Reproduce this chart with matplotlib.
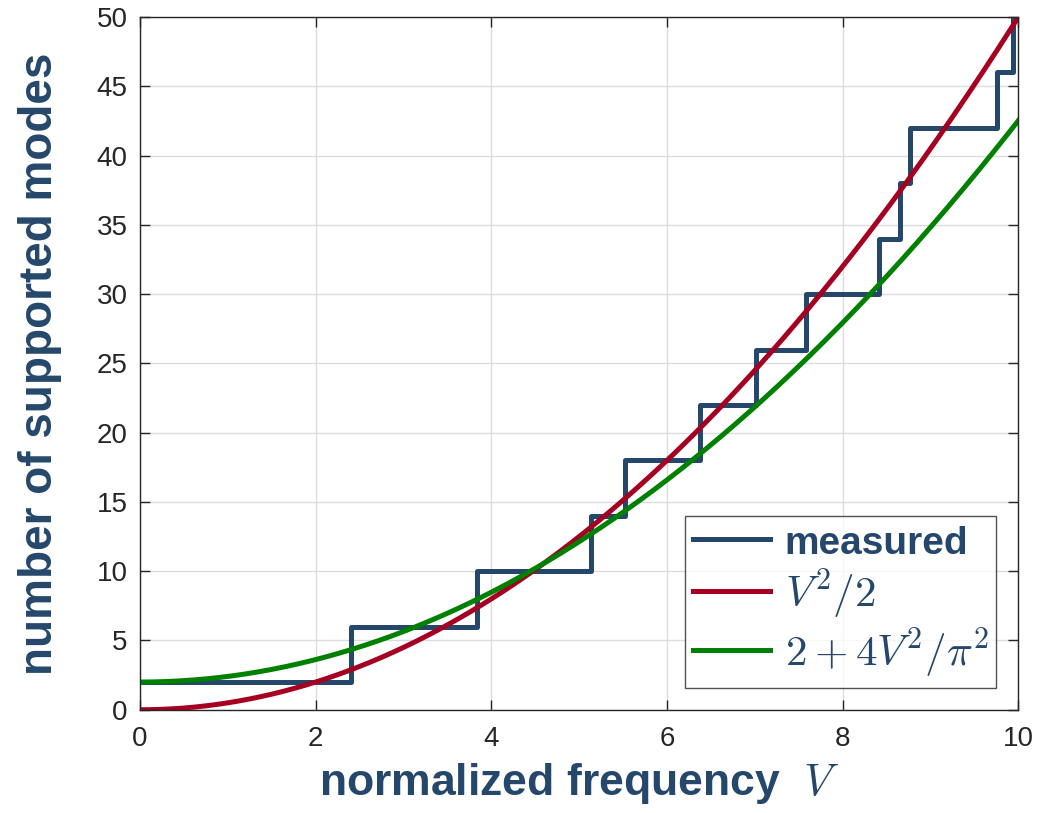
import numpy as np
import matplotlib.pyplot as plt

# cutoff values of V where a new group of modes appears
v_cut = [0.0, 2.405, 3.832, 5.136, 5.520, 6.380, 7.016, 7.588, 8.417, 8.654, 8.771, 9.761, 9.936, 10.0]
n_modes = [2, 6, 10, 14, 18, 22, 26, 30, 34, 38, 42, 46, 50, 50]

V = np.linspace(0, 10, 400)

blue = '#24476B'
red = '#A50021'
green = '#008000'

plt.rcParams['mathtext.fontset'] = 'cm'
plt.rcParams['font.family'] = ['Liberation Sans Narrow', 'Liberation Sans', 'DejaVu Sans']

fig = plt.figure(figsize=(10.37, 8.13), dpi=100)
ax = fig.add_axes([0.135, 0.127, 0.847, 0.852])

ax.step(v_cut, n_modes, where='post', color=blue, lw=3.6, label='measured')
ax.plot(V, V**2 / 2, color=red, lw=3.6, label=r'$V^2/2$')
ax.plot(V, 2 + 4 * V**2 / np.pi**2, color=green, lw=3.6, label=r'$2+4V^2/\pi^2$')

ax.set_xlim(0, 10)
ax.set_ylim(0, 50)
ax.set_xticks(np.arange(0, 11, 2))
ax.set_yticks(np.arange(0, 51, 5))
ax.tick_params(direction='in', labelsize=20, colors='#262626', length=7, width=1,
               top=True, right=True)
ax.tick_params(axis='x', pad=12)
ax.tick_params(axis='y', pad=9)
ax.grid(True, color='#dcdcdc', lw=1)
for s in ax.spines.values():
    s.set_color('#262626')
    s.set_linewidth(1)

ax.set_xlabel(r'normalized frequency  $V$', fontsize=32, fontweight='bold', color=blue,
              family=['Liberation Sans', 'DejaVu Sans'], labelpad=6)
ax.set_ylabel('number of supported modes', fontsize=33, fontweight='bold', color=blue,
              family=['Liberation Sans', 'DejaVu Sans'], labelpad=25)

leg = ax.legend(loc='lower right', fontsize=31, frameon=True, fancybox=False,
                edgecolor='#262626', handlelength=1.8, handletextpad=0.34,
                borderpad=0.18, labelspacing=0.12, borderaxespad=0,
                bbox_to_anchor=(0.975, 0.032))
leg.get_frame().set_linewidth(1)
for t in leg.get_texts():
    t.set_color(blue)
leg.get_texts()[0].set_fontweight('bold')
leg.get_texts()[0].set_family(['Liberation Sans', 'DejaVu Sans'])
leg.get_texts()[0].set_fontsize(28)

fig.savefig('out.png', dpi=100)
